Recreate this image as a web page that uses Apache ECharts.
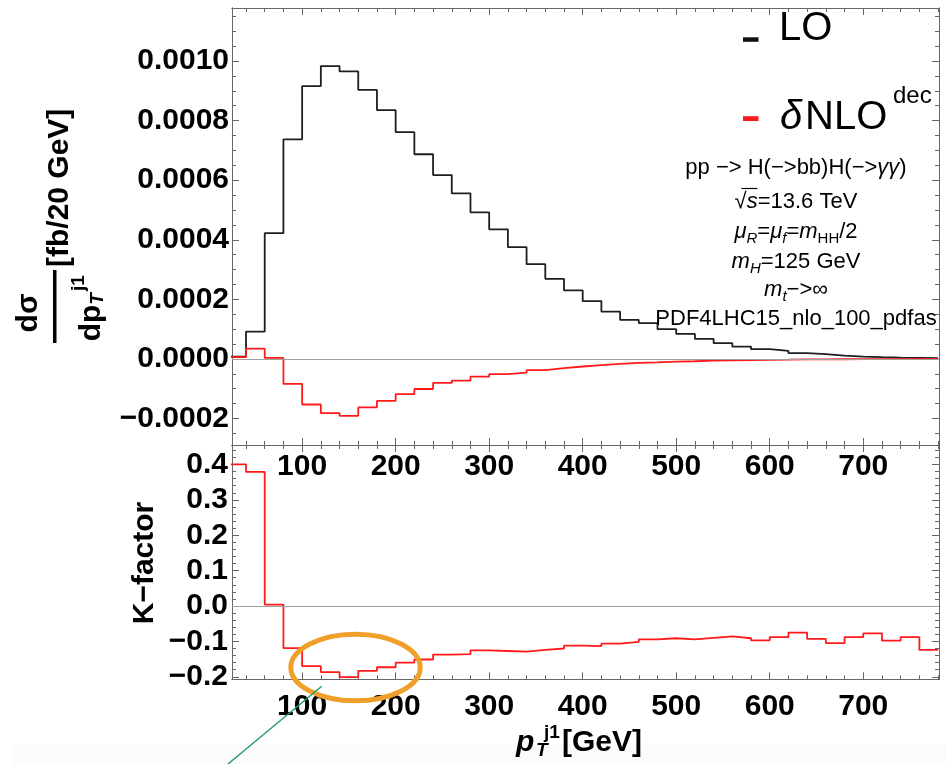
<!DOCTYPE html>
<html>
<head>
<meta charset="utf-8">
<script src="https://cdn.jsdelivr.net/npm/echarts@6/dist/echarts.min.js"></script>
<style>
html,body{margin:0;padding:0;background:#fff}
#chart{width:946px;height:764px}
</style>
</head>
<body>
<div id="chart"></div>
<script>
// Leading-jet transverse momentum bins: left edges in GeV, width 20 GeV
const binLow = [20,40,60,80,100,120,140,160,180,200,220,240,260,280,300,320,340,360,380,400,
                420,440,460,480,500,520,540,560,580,600,620,640,660,680,700,720,740,760];
const binWidth = 20;

// LO distribution, fb / 20 GeV
const loValues = [0.0000077,0.0000916,0.000422,0.000737,0.000916,0.000983,0.000965,0.000903,0.000835,0.000761,
                  0.000687,0.000617,0.000556,0.000492,0.000435,0.000375,0.000318,0.000269,0.000230,0.000194,
                  0.000159,0.000131,0.000120,0.0000997,0.0000839,0.0000671,0.0000527,0.0000413,0.0000326,0.0000268,
                  0.0000191,0.0000158,0.0000111,0.0000077,0.0000057,0.0000044,0.0000034,0.0000023];

// NLO correction from the decay, fb / 20 GeV
const dNloValues = [0.0000057,0.0000346,0.0000034,-0.0000839,-0.000153,-0.000182,-0.000191,-0.000163,-0.000141,-0.000118,
                    -0.000101,-0.0000805,-0.0000728,-0.0000594,-0.0000513,-0.0000460,-0.0000379,-0.0000312,-0.0000255,-0.000021,
                    -0.0000168,-0.0000132,-0.0000113,-0.0000091,-0.0000079,-0.0000060,-0.0000045,-0.0000038,-0.0000032,-0.0000024,
                    -0.0000014,-0.0000015,-0.0000012,-0.0000007,-0.0000004,-0.0000004,-0.0000003,-0.0000003];

// Ratio panel
const kValues = [0.400,0.379,0.004,-0.119,-0.170,-0.187,-0.201,-0.183,-0.173,-0.160,
                 -0.151,-0.137,-0.136,-0.125,-0.127,-0.129,-0.124,-0.120,-0.112,-0.113,
                 -0.106,-0.101,-0.094,-0.091,-0.094,-0.090,-0.086,-0.091,-0.097,-0.088,
                 -0.075,-0.093,-0.105,-0.088,-0.077,-0.098,-0.088,-0.124];

// Axis ranges and tick labels
const xRange = [25, 781];
const xMajor = [100,200,300,400,500,600,700];
const xMinorStep = 20;
const topRange = [-0.000289, 0.001178];
const topMajor = [-0.0002,0,0.0002,0.0004,0.0006,0.0008,0.0010];
const topMinorStep = 0.00005;
const kRange = [-0.207, 0.455];
const kMajor = [-0.2,-0.1,0,0.1,0.2,0.3,0.4];
const kMinorStep = 0.02;

const FRAME = '#666';
const FONT = '"Liberation Sans", Arial, Helvetica, sans-serif';
const MINUS = '\u2212';

function minorTicks(range, step, majors) {
  const out = [];
  const k0 = Math.ceil(range[0] / step - 1e-9), k1 = Math.floor(range[1] / step + 1e-9);
  for (let k = k0; k <= k1; k++) {
    const v = +(k * step).toPrecision(10);
    if (!majors.some(m => Math.abs(m - v) < step * 1e-3)) out.push(v);
  }
  return out;
}

function stepPoints(values) {
  const pts = binLow.map((x, i) => [x, values[i]]);
  pts.push([binLow[binLow.length - 1] + binWidth, values[values.length - 1]]);
  return pts;
}

function frameAxis(gridIndex, position, range, ticks, len, label) {
  return {
    type: 'value', gridIndex, position, min: range[0], max: range[1],
    axisLine: { show: true, onZero: false, lineStyle: { color: FRAME, width: 1 } },
    axisTick: { show: true, inside: true, length: len, customValues: ticks,
                lineStyle: { color: FRAME, width: 1 } },
    axisLabel: label ? Object.assign({ show: true, customValues: ticks, color: '#000',
                fontFamily: FONT, fontWeight: 'bold', fontSize: 30 }, label) : { show: false },
    splitLine: { show: false },
    axisPointer: { show: false }
  };
}

const xMinor = minorTicks(xRange, xMinorStep, xMajor);
const topMinor = minorTicks(topRange, topMinorStep, topMajor);
const kMinor = minorTicks(kRange, kMinorStep, kMajor);

const signed = d => v => (v < -1e-12 ? MINUS : '') + Math.abs(v).toFixed(d);

const xAxes = [
  frameAxis(0, 'bottom', xRange, xMajor, 7, { margin: 7, formatter: v => String(Math.round(v)) }),
  frameAxis(0, 'bottom', xRange, xMinor, 4),
  frameAxis(0, 'top', xRange, xMajor, 7),
  frameAxis(0, 'top', xRange, xMinor, 4),
  frameAxis(1, 'bottom', xRange, xMajor, 7, { margin: 12, formatter: v => String(Math.round(v)) }),
  frameAxis(1, 'bottom', xRange, xMinor, 4),
  frameAxis(1, 'top', xRange, xMajor, 7),
  frameAxis(1, 'top', xRange, xMinor, 4)
];
const yAxes = [
  frameAxis(0, 'left', topRange, topMajor, 7, { margin: 3, formatter: signed(4) }),
  frameAxis(0, 'left', topRange, topMinor, 4),
  frameAxis(0, 'right', topRange, topMajor, 7),
  frameAxis(0, 'right', topRange, topMinor, 4),
  frameAxis(1, 'left', kRange, kMajor, 7, { margin: 4, formatter: signed(1) }),
  frameAxis(1, 'left', kRange, kMinor, 4),
  frameAxis(1, 'right', kRange, kMajor, 7),
  frameAxis(1, 'right', kRange, kMinor, 4)
];

const zeroLine = {
  silent: true, symbol: 'none', label: { show: false },
  lineStyle: { color: '#a0a0a0', width: 1, type: 'solid' },
  data: [{ yAxis: 0 }]
};

function histSeries(name, values, color, xi, yi, withZero) {
  const s = {
    name, type: 'line', step: 'end', data: stepPoints(values),
    xAxisIndex: xi, yAxisIndex: yi, showSymbol: false, symbol: 'none',
    lineStyle: { color, width: 1.8 }, itemStyle: { color }, clip: true
  };
  if (withZero) s.markLine = zeroLine;
  return s;
}

// Text styles for annotations
const T22 = { fontFamily: FONT, fontSize: 22, lineHeight: 28, verticalAlign: 'middle', fill: '#000' };
const rich22 = {
  n: Object.assign({}, T22),
  i: Object.assign({}, T22, { fontStyle: 'italic' }),
  isub: { fontFamily: FONT, fontSize: 15, fontStyle: 'italic', verticalAlign: 'bottom', fill: '#000' },
  sub: { fontFamily: FONT, fontSize: 15, verticalAlign: 'bottom', fill: '#000' }
};
function infoLine(text, y) {
  return { type: 'text', x: 796, y, z: 50,
    style: { text, rich: rich22, align: 'center', verticalAlign: 'middle',
             textAlign: 'center', textVerticalAlign: 'middle', font: '22px ' + FONT, fill: '#000' } };
}
function txt(text, x, y, font, align, extra) {
  return Object.assign({ type: 'text', x, y, z: 50,
    style: { text, font, fill: '#000', align: align || 'left', verticalAlign: 'middle',
             textAlign: align || 'left', textVerticalAlign: 'middle' } }, extra || {});
}
const B30 = 'bold 30px ' + FONT;
const BI30 = 'italic bold 30px ' + FONT;

const graphics = [
  // faint strip at the foot of the figure
  { type: 'rect', z: -1, shape: { x: 13, y: 745, width: 933, height: 19 }, style: { fill: '#fbfbfb' } },

  // legend
  { type: 'rect', z: 50, shape: { x: 743, y: 37.3, width: 15.5, height: 4.5 }, style: { fill: '#111' } },
  txt('LO', 779, 29, '40px ' + FONT),
  { type: 'rect', z: 50, shape: { x: 743, y: 116.2, width: 15.5, height: 4.8 }, style: { fill: '#ff1a1a' } },
  txt('\u03b4', 780, 117.7, 'italic 40px ' + FONT),
  txt('NLO', 805, 117.7, '40px ' + FONT),
  txt('dec', 893, 96.5, '24px ' + FONT),

  // process information
  infoLine('{n|pp ' + MINUS + '> H(' + MINUS + '>bb)H(' + MINUS + '>}{i|\u03b3\u03b3}{n|)}', 168),
  infoLine('{n|\u221a}{i|s}{n|=13.6 TeV}', 202),
  { type: 'line', z: 50, shape: { x1: 741.5, y1: 188.5, x2: 757.5, y2: 188.5 }, style: { stroke: '#000', lineWidth: 1.2 } },
  infoLine('{i|\u03bc}{isub|R}{n|=}{i|\u03bc}{isub|f}{n|=}{i|m}{sub|HH}{n|/2}', 232),
  infoLine('{i|m}{isub|H}{n|=125 GeV}', 262),
  infoLine('{i|m}{isub|t}{n|' + MINUS + '>\u221e}', 290),
  infoLine('{n|PDF4LHC15_nlo_100_pdfas}', 319),

  // y title of the upper panel: dσ / dpT^j1 [fb/20 GeV], reading upwards
  { type: 'group', x: 0, y: 307, rotation: Math.PI / 2, z: 50, children: [
      txt('d\u03c3', -6, 29, B30, 'center'),
      { type: 'rect', shape: { x: -36, y: 53, width: 73, height: 3.5 }, style: { fill: '#000' } },
      txt('dp', -16, 91.5, B30, 'center'),
      txt('T', 8, 98, 'italic bold 19px ' + FONT, 'center'),
      txt('j1', 24, 79, 'bold 19px ' + FONT, 'center'),
      txt('[fb/20 GeV]', 40, 60, B30, 'left')
  ] },

  // y title of the lower panel
  { type: 'group', x: 0, y: 563, rotation: Math.PI / 2, z: 50, children: [
      txt('K' + MINUS + 'factor', 0, 144.5, B30, 'center')
  ] },

  // x title
  txt('p', 516, 742.5, BI30),
  txt('T', 536, 751, 'italic bold 19px ' + FONT),
  txt('j1', 544, 733, 'bold 19px ' + FONT),
  txt('[GeV]', 562, 742.5, B30),

  // highlight around the dip of the ratio
  { type: 'ellipse', z: 60, shape: { cx: 355.5, cy: 667.5, rx: 64.7, ry: 33.3 },
    style: { fill: 'none', stroke: '#f0a02a', lineWidth: 5 } },
  { type: 'line', z: 61, shape: { x1: 321.7, y1: 686.3, x2: 228, y2: 764 },
    style: { stroke: '#1e9a70', lineWidth: 1.4 } }
];

const chart = echarts.init(document.getElementById('chart'), null, { renderer: 'canvas' });
chart.setOption({
  animation: false,
  backgroundColor: '#fff',
  grid: [
    { left: 232, top: 8, width: 707, height: 437 },
    { left: 232, top: 445, width: 707, height: 234.3 }
  ],
  xAxis: xAxes,
  yAxis: yAxes,
  series: [
    histSeries('LO', loValues, '#1e1e1e', 0, 0, false),
    histSeries('\u03b4NLO dec', dNloValues, '#ff1a1a', 0, 0, true),
    histSeries('K-factor', kValues, '#ff1a1a', 4, 4, true)
  ],
  graphic: graphics
});
</script>
</body>
</html>
